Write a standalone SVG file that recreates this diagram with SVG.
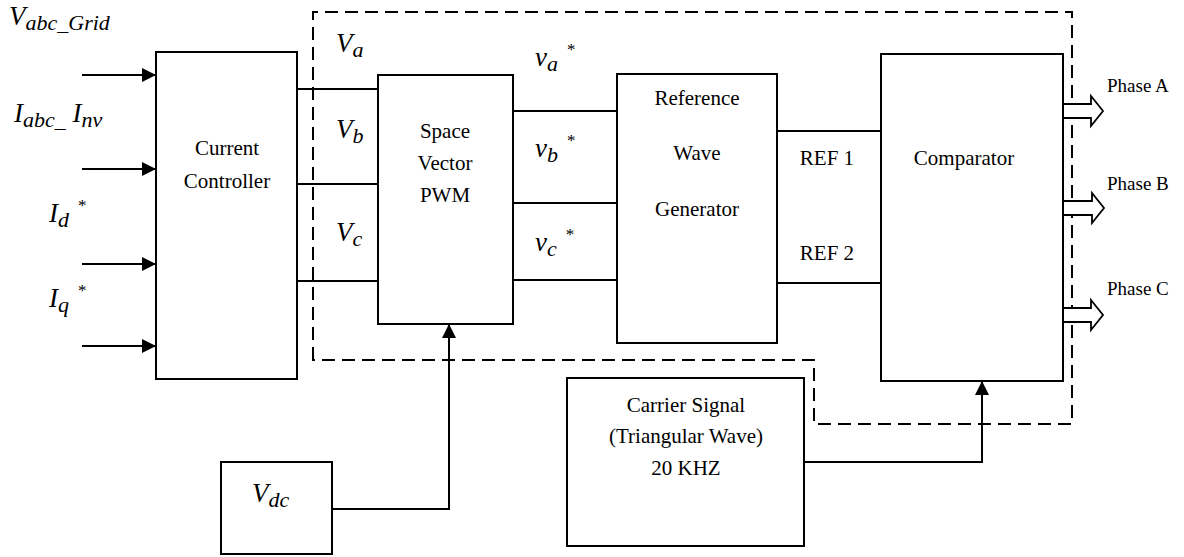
<svg xmlns="http://www.w3.org/2000/svg" width="1184" height="557" viewBox="0 0 1184 557">
<style>
.box{fill:#fff;stroke:#000;stroke-width:2}
.ln{fill:none;stroke:#000;stroke-width:2}
.dash{fill:none;stroke:#000;stroke-width:2;stroke-dasharray:13 7}
.t{font-size:21px;fill:#000;text-anchor:middle}
.m{font-style:italic;font-size:27px;fill:#000}
.s{font-size:22px}
.st{font-size:17px;font-style:normal}
.ph{fill:#fff;stroke:#000;stroke-width:1.8}
.pl{font-size:19px;fill:#000}
</style>
<defs>
<marker id="ah" markerWidth="14" markerHeight="14" refX="14" refY="7" orient="auto" markerUnits="userSpaceOnUse">
<path d="M0,0 L14,7 L0,14 Z" fill="#000"/>
</marker>
</defs>
<rect width="1184" height="557" fill="#fff"/>
<g id="boundary">
<path class="dash" d="M313,360 L313,12 L1072,12 L1072,424 L814,424 L814,360 Z"/>
</g>
<g id="connectors">
<line class="ln" x1="82" y1="75" x2="156" y2="75" marker-end="url(#ah)"/>
<line class="ln" x1="82" y1="169" x2="156" y2="169" marker-end="url(#ah)"/>
<line class="ln" x1="82" y1="264" x2="156" y2="264" marker-end="url(#ah)"/>
<line class="ln" x1="82" y1="346" x2="156" y2="346" marker-end="url(#ah)"/>
<line class="ln" x1="297" y1="89" x2="378" y2="89"/>
<line class="ln" x1="297" y1="184" x2="378" y2="184"/>
<line class="ln" x1="297" y1="281" x2="378" y2="281"/>
<line class="ln" x1="513" y1="111" x2="617" y2="111"/>
<line class="ln" x1="513" y1="203" x2="617" y2="203"/>
<line class="ln" x1="513" y1="280" x2="617" y2="280"/>
<line class="ln" x1="777" y1="131" x2="881" y2="131"/>
<line class="ln" x1="777" y1="283" x2="881" y2="283"/>
<polyline class="ln" points="332,509 449,509 449,324" marker-end="url(#ah)"/>
<polyline class="ln" points="804,462 982,462 982,381" marker-end="url(#ah)"/>
<polygon class="ph" points="1062,104 1091,104 1091,96 1103,111 1091,126 1091,118 1062,118"/>
<polygon class="ph" points="1063,201 1092,201 1092,193 1104,208 1092,223 1092,215 1063,215"/>
<polygon class="ph" points="1062,308 1091,308 1091,300 1103,315 1091,330 1091,322 1062,322"/>
</g>
<g font-family="'Liberation Serif', 'Times New Roman', serif">
<g id="current-controller">
<rect class="box" x="156" y="52" width="141" height="327"/>
<text class="t" x="227" y="155">Current</text>
<text class="t" x="227" y="188">Controller</text>
</g>
<g id="svpwm">
<rect class="box" x="378" y="75" width="135" height="249"/>
<text class="t" x="445" y="138">Space</text>
<text class="t" x="445" y="170">Vector</text>
<text class="t" x="445" y="202">PWM</text>
</g>
<g id="ref-wave-gen">
<rect class="box" x="617" y="74" width="160" height="269"/>
<text class="t" x="697" y="105">Reference</text>
<text class="t" x="697" y="160">Wave</text>
<text class="t" x="697" y="216">Generator</text>
</g>
<g id="comparator">
<rect class="box" x="881" y="54" width="182" height="327"/>
<text class="t" x="964" y="165">Comparator</text>
</g>
<g id="carrier">
<rect class="box" x="567" y="378" width="237" height="168"/>
<text class="t" x="686" y="412">Carrier Signal</text>
<text class="t" x="686" y="443">(Triangular Wave)</text>
<text class="t" x="686" y="475">20 KHZ</text>
</g>
<g id="vdc">
<rect class="box" x="221" y="462" width="111" height="92"/>
<text class="m" x="252" y="502">V<tspan class="s" dy="5">dc</tspan></text>
</g>
<g id="labels">
<text class="m" x="9" y="25">V<tspan class="s" dy="5">abc_Grid</tspan></text>
<text class="m" x="14" y="122">I<tspan class="s" dy="5">abc_</tspan><tspan dy="-5"> I</tspan><tspan class="s" dy="5">nv</tspan></text>
<text class="m" x="49" y="222">I<tspan class="s" dy="5">d</tspan><tspan class="st" dx="9" dy="-16">*</tspan></text>
<text class="m" x="49" y="307">I<tspan class="s" dy="5">q</tspan><tspan class="st" dx="9" dy="-16">*</tspan></text>
<text class="m" x="336" y="52">V<tspan class="s" dy="5">a</tspan></text>
<text class="m" x="336" y="138">V<tspan class="s" dy="5">b</tspan></text>
<text class="m" x="336" y="241">V<tspan class="s" dy="5">c</tspan></text>
<text class="m" x="535" y="66">v<tspan class="s" dy="5">a</tspan><tspan class="st" dx="9" dy="-16">*</tspan></text>
<text class="m" x="535" y="157">v<tspan class="s" dy="5">b</tspan><tspan class="st" dx="9" dy="-16">*</tspan></text>
<text class="m" x="535" y="251">v<tspan class="s" dy="5">c</tspan><tspan class="st" dx="9" dy="-16">*</tspan></text>
<text class="t" x="827" y="165">REF 1</text>
<text class="t" x="827" y="260">REF 2</text>
<text class="pl" x="1107" y="92">Phase A</text>
<text class="pl" x="1107" y="190">Phase B</text>
<text class="pl" x="1107" y="295">Phase C</text>
</g>
</g>
</svg>
